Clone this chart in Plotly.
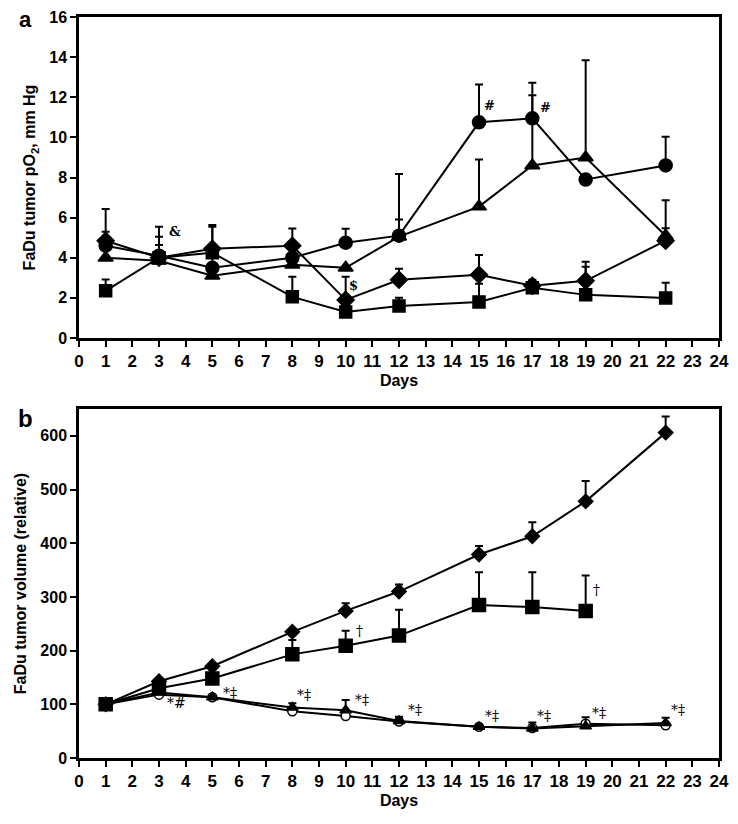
import plotly.graph_objects as go

# ---------------- Panel a: tumor pO2 ----------------
days_a = [1, 3, 5, 8, 10, 12, 15, 17, 19, 22]
a_circle = [4.6, 4.1, 3.5, 4.0, 4.75, 5.1, 10.75, 10.95, 7.9, 8.6]
a_circle_top = [5.3, 5.55, 5.55, 4.0, 5.45, 8.17, 12.64, 12.72, 7.9, 10.03]
a_triangle = [4.0, 3.85, 3.1, 3.65, 3.5, 5.05, 6.55, 8.6, 9.0, 5.1]
a_triangle_top = [4.0, 4.63, 3.1, 3.65, 3.5, 5.91, 8.9, 12.1, 13.85, 6.87]
a_diamond = [4.85, 4.0, 4.45, 4.6, 1.9, 2.9, 3.15, 2.6, 2.85, 4.85]
a_diamond_top = [6.43, 5.05, 5.63, 5.46, 3.05, 3.45, 4.14, 2.9, 3.8, 5.47]
a_square = [2.35, 4.0, 4.25, 2.05, 1.3, 1.6, 1.8, 2.5, 2.15, 2.0]
a_square_top = [2.91, 4.0, 4.25, 3.05, 1.3, 2.01, 2.7, 2.8, 3.55, 2.76]

# ---------------- Panel b: tumor volume ----------------
days_b = [1, 3, 5, 8, 10, 12, 15, 17, 19, 22]
b_diamond = [100, 143, 171, 235, 274, 310, 379, 413, 478, 606]
b_diamond_top = [100, 148, 176, 240, 288, 323, 395, 439, 516, 636]
days_b_sq = [1, 3, 5, 8, 10, 12, 15, 17, 19]
b_square = [100, 130, 148, 193, 209, 228, 285, 281, 274]
b_square_top = [100, 133, 158, 220, 237, 276, 346, 346, 340]
b_triangle = [100, 122, 113, 94, 89, 69, 58, 55, 59, 65]
b_triangle_top = [100, 124, 115, 102, 108, 77, 62, 66, 76, 75]
b_circle_open = [100, 118, 113, 87, 78, 68, 58, 56, 64, 61]

x_ticks = list(range(0, 25))
ya_ticks = [0, 2, 4, 6, 8, 10, 12, 14, 16]
yb_ticks = [0, 100, 200, 300, 400, 500, 600]

# annotations (text, x, y)
a_notes = [("&", 3.6, 5.33), ("$", 10.3, 2.64), ("#", 15.4, 11.6), ("#", 17.5, 11.5)]
b_notes = [("*#", 3.65, 102), ("*‡", 5.65, 122), ("*‡", 8.45, 117), ("*‡", 10.6, 108),
           ("*‡", 12.6, 89), ("*‡", 15.5, 78), ("*‡", 17.45, 78), ("*‡", 19.5, 83),
           ("*‡", 22.45, 89), ("†", 10.5, 237), ("†", 19.4, 313)]

BLACK = "#000000"
fig = go.Figure()


def up(vals, tops):
    return [max(t - v, 0) for v, t in zip(vals, tops)]


def add(x, y, tops, symbol, size, xa, ya, fill=BLACK):
    fig.add_trace(go.Scatter(
        x=x, y=y, mode="lines+markers", xaxis=xa, yaxis=ya,
        line=dict(color=BLACK, width=2),
        marker=dict(symbol=symbol, size=size, color=fill, line=dict(color=BLACK, width=1.5)),
        error_y=dict(type="data", symmetric=False, array=up(y, tops) if tops else None,
                     arrayminus=[0] * len(y), color=BLACK, thickness=2, width=4,
                     visible=bool(tops)),
        showlegend=False, hoverinfo="skip"))


# panel a
add(days_a, a_square, a_square_top, "square", 12, "x", "y")
add(days_a, a_diamond, a_diamond_top, "diamond", 13, "x", "y")
add(days_a, a_triangle, a_triangle_top, "triangle-up", 13, "x", "y")
add(days_a, a_circle, a_circle_top, "circle", 13, "x", "y")

# panel b
add(days_b, b_circle_open, None, "circle", 9, "x2", "y2", fill="#ffffff")
add(days_b, b_triangle, b_triangle_top, "triangle-up", 10, "x2", "y2")
add(days_b_sq, b_square, b_square_top, "square", 13, "x2", "y2")
add(days_b, b_diamond, b_diamond_top, "diamond", 11, "x2", "y2")

FONT = "Liberation Sans, Arial"
xtickfont = dict(family=FONT, size=17, color=BLACK, weight="bold")
ytickfont = dict(family=FONT, size=16, color=BLACK, weight="bold")
titlefont = dict(family=FONT, size=16, color=BLACK, weight="bold")

xcommon = dict(range=[0, 24], tickvals=x_ticks, ticktext=[str(v) for v in x_ticks],
               showline=True, linecolor=BLACK, linewidth=2.5, mirror=True,
               ticks="outside", ticklen=6, tickwidth=2, tickcolor=BLACK,
               showgrid=False, zeroline=False, tickfont=xtickfont, automargin=False,
               title=dict(text="Days", font=dict(family=FONT, size=16,
                                                  color=BLACK, weight="bold"), standoff=5))
ycommon = dict(showline=True, linecolor=BLACK, linewidth=2.5, mirror=True,
               ticks="outside", ticklen=6, tickwidth=2, tickcolor=BLACK,
               showgrid=False, zeroline=False, tickfont=ytickfont, automargin=False)

annots = []
for t, x, y in a_notes:
    annots.append(dict(text=t, x=x, y=y, xref="x", yref="y", showarrow=False,
                       font=dict(family="DejaVu Serif", size=13, color=BLACK, weight="bold")))
for t, x, y in b_notes:
    annots.append(dict(text=t, x=x, y=y, xref="x2", yref="y2", showarrow=False,
                       font=dict(family="DejaVu Serif", size=14, color=BLACK)))

# figure size/margins (page has an 8px body margin)
OFF = 8
W, H = 738 - OFF, 824 - OFF
L, R, T, B = 79 - OFF, 19, 17 - OFF, 66
pw, ph = W - L - R, H - T - B
for t, px, py, s in [("a", 25, 19, 22), ("b", 25, 418, 24)]:
    fx, fy = px - OFF, py - OFF
    annots.append(dict(text=t, x=(fx - L) / pw, y=(H - B - fy) / ph, xref="paper", yref="paper",
                       xanchor="center", yanchor="middle", showarrow=False,
                       font=dict(family=FONT, size=s, color=BLACK, weight="bold")))

fig.update_layout(
    width=W, height=H, margin=dict(l=L, r=R, t=T, b=B),
    paper_bgcolor="white", plot_bgcolor="white",
    xaxis=dict(xcommon, domain=[0, 1], anchor="y"),
    yaxis=dict(ycommon, domain=[420 / 741, 1], anchor="x", range=[0, 16], tickvals=ya_ticks,
               title=dict(text="FaDu tumor pO<sub>2</sub>, mm Hg", font=titlefont, standoff=10)),
    xaxis2=dict(xcommon, domain=[0, 1], anchor="y2"),
    yaxis2=dict(ycommon, domain=[0, 349 / 741], anchor="x2", range=[0, 650], tickvals=yb_ticks,
                title=dict(text="FaDu tumor volume (relative)", font=titlefont, standoff=10)),
    annotations=annots,
)

fig.write_html("out.html")
